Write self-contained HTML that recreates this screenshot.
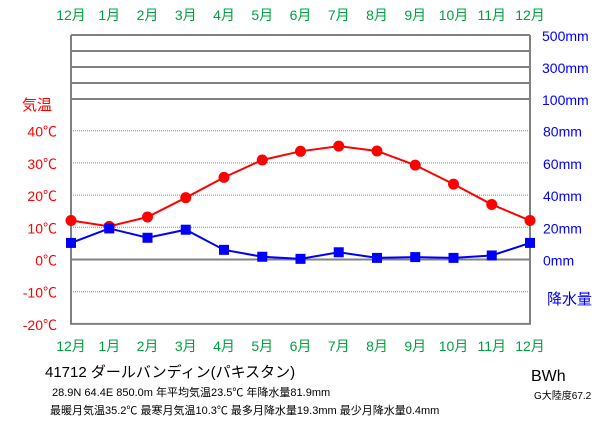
<!DOCTYPE html>
<html><head><meta charset="utf-8"><style>
body{margin:0;background:#fff}
svg text{font-family:"Liberation Sans","Noto Sans CJK JP",sans-serif}
</style></head><body>
<svg width="611" height="425" viewBox="0 0 611 425">
<g id="grid"></g>
<g id="series"></g>
<g id="labels"></g>
<text x="45" y="377" font-size="15">41712  ダールバンディン(パキスタン)</text>
<text x="52" y="396" font-size="11">28.9N  64.4E  850.0m  年平均気温23.5℃  年降水量81.9mm</text>
<text x="50" y="414" font-size="11">最暖月気温35.2℃ 最寒月気温10.3℃ 最多月降水量19.3mm 最少月降水量0.4mm</text>
<text x="531" y="381" font-size="16">BWh</text>
<text x="534" y="399" font-size="10">G大陸度67.2</text>
</svg>
<script>
const months=["12月","1月","2月","3月","4月","5月","6月","7月","8月","9月","10月","11月","12月"];
const temps=[12.1,10.3,13.2,19.2,25.5,30.9,33.6,35.2,33.7,29.3,23.4,17.1,12.1];
const precip=[10.3,19.3,13.5,18.5,6.0,1.7,0.4,4.5,1.0,1.5,1.0,2.5,10.3];
const tempTicks=[40,30,20,10,0,-10,-20];
const precipTicks=["80mm","60mm","40mm","20mm","0mm"];
const upperTicks=["500mm","300mm","100mm"];
const NS="http://www.w3.org/2000/svg";
const L=71,R=530,Y0=259.5,K=3.22;
const x=i=>L+i*(R-L)/12;
const yT=t=>Y0-t*K;
const yP=p=>Y0-p*K/2;
function mk(tag,attrs,parent){const e=document.createElementNS(NS,tag);for(const k in attrs)e.setAttribute(k,attrs[k]);parent.appendChild(e);return e;}
const g=document.getElementById('grid'),s=document.getElementById('series'),lb=document.getElementById('labels');
tempTicks.forEach(t=>{
  if(t===0||t===-20)return;
  const l=mk('line',{x1:L,x2:R,y1:yT(t),y2:yT(t),stroke:'#888','stroke-dasharray':'1,1','stroke-width':1},g);
  
  
});
[35,51,67,83,99].forEach(y=>{
  const l=mk('line',{x1:L,x2:R,y1:y,y2:y,stroke:'#808080','stroke-width':2},g);
  
  
});
const z=mk('line',{x1:L,x2:R,y1:yT(0),y2:yT(0),stroke:'#808080','stroke-width':2},g);


const fr=mk('path',{d:`M${L},35V${yT(-20)}H${R}V35`,fill:'none',stroke:'#808080','stroke-width':2},g);


const tl=mk('polyline',{points:temps.map((t,i)=>x(i)+','+yT(t)).join(' '),fill:'none',stroke:'#f00','stroke-width':2},s);


const pl=mk('polyline',{points:precip.map((p,i)=>x(i)+','+yP(p)).join(' '),fill:'none',stroke:'#00f','stroke-width':2},s);


temps.forEach((t,i)=>{
  const c=mk('circle',{cx:x(i),cy:yT(t),r:5.5,fill:'#f00'},s);
  
  
});
precip.forEach((p,i)=>{
  const r=mk('rect',{x:x(i)-5,y:yP(p)-5,width:10,height:10,fill:'#00f'},s);
  
  
});
months.forEach((m,i)=>{
  [20,351].forEach(y=>{
    const t=mk('text',{x:x(i),y:y,'font-size':14,fill:'#00a040','text-anchor':'middle'},lb);
    t.textContent=m;
    
    
  });
});
tempTicks.forEach(v=>{
  const t=mk('text',{x:57,y:yT(v)+6,'font-size':14,fill:'#f00','text-anchor':'end'},lb);
  t.textContent=v+'℃';
  
  
});
precipTicks.forEach((v,i)=>{
  const t=mk('text',{x:543,y:yT(40-i*10)+6,'font-size':14,fill:'#00f'},lb);
  t.textContent=v;
  
  
});
upperTicks.forEach((v,i)=>{
  const t=mk('text',{x:542,y:41+i*32,'font-size':14,fill:'#00f'},lb);
  t.textContent=v;
  
  
});
const a=mk('text',{x:22,y:110,'font-size':15,fill:'#f00'},lb);
a.textContent='気温';


const b=mk('text',{x:547,y:304,'font-size':15,fill:'#00f'},lb);
b.textContent='降水量';


</script>
</body></html>
